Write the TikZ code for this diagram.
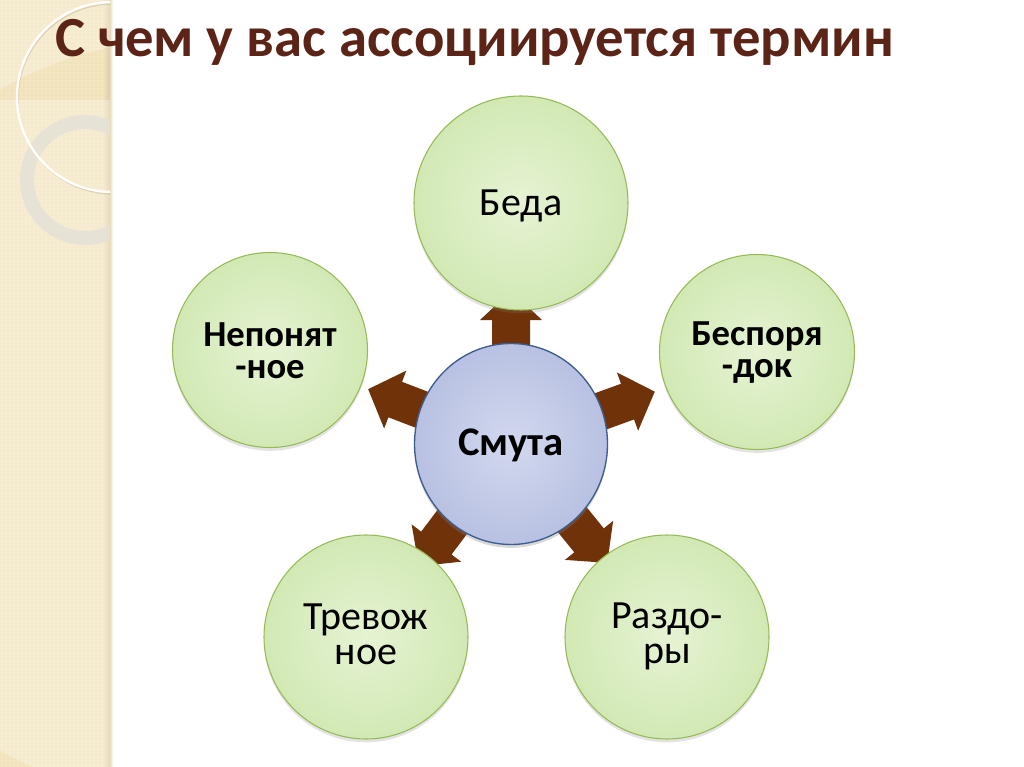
\documentclass[tikz,border=0pt]{standalone}
\usepackage{fontspec}
\setmainfont{Carlito}
\usetikzlibrary{calc,shadows,patterns,shapes.geometric}
\definecolor{stripc}{RGB}{243,229,192}
\definecolor{stripdot}{RGB}{232,214,172}
\definecolor{stripedge}{RGB}{222,204,162}
\definecolor{titlec}{RGB}{92,36,22}
\definecolor{arrowc}{RGB}{112,50,8}
\definecolor{greenin}{RGB}{230,243,212}
\definecolor{greenout}{RGB}{210,233,180}
\definecolor{greenline}{RGB}{150,186,86}
\definecolor{bluein}{RGB}{210,216,238}
\definecolor{blueout}{RGB}{184,193,226}
\definecolor{blueline}{RGB}{62,92,140}
\definecolor{ringc}{RGB}{228,225,214}
\tikzset{
  gcirc/.style={circle, inner sep=0pt, draw=greenline, line width=0.8pt,
    inner color=greenin, outer color=greenout,
    drop shadow={opacity=0.22, shadow xshift=0pt, shadow yshift=-2.5pt}},
  bcirc/.style={ellipse, inner sep=0pt, draw=blueline, line width=1pt,
    inner color=bluein, outer color=blueout,
    drop shadow={opacity=0.3, shadow xshift=0pt, shadow yshift=-2.5pt}},
  lblr/.style={inner sep=0pt, anchor=base, align=center, font=\fontsize{30}{26.25}\selectfont},
  lblb/.style={inner sep=0pt, anchor=base, align=center, font=\fontsize{27.5}{24}\selectfont\bfseries},
  lblc/.style={inner sep=0pt, anchor=base, font=\fontsize{30.5}{36}\selectfont\bfseries},
  titlestyle/.style={inner sep=0pt, anchor=base west, text=titlec,
    font=\fontsize{42.5}{50}\selectfont\bfseries},
}
\newcommand\blockarr[1]{%
  \fill[arrowc] ($(smc)+(#1:80)+(#1+90:19)$) -- ($(smc)+(#1:124)+(#1+90:19)$)
    -- ($(smc)+(#1:124)+(#1+90:31)$) -- ($(smc)+(#1:153)$)
    -- ($(smc)+(#1:124)+(#1-90:31)$) -- ($(smc)+(#1:124)+(#1-90:19)$)
    -- ($(smc)+(#1:80)+(#1-90:19)$) -- cycle;}
\begin{document}
\begin{tikzpicture}[x=0.75pt,y=-0.75pt]
\useasboundingbox (0,0) rectangle (1024,767);
\fill[white] (0,0) rectangle (1024,767);
% left decorative strip
\fill[stripc] (0,0) rectangle (110,767);
\fill[pattern=dots, pattern color=stripdot] (0,0) rectangle (110,767);
\shade[left color=stripc!80!stripedge, right color=stripedge] (104,0) rectangle (110,767);
\shade[left color=stripedge!70, right color=white] (110,0) rectangle (113,767);
\begin{scope}
  \clip (0,0) rectangle (110,767);
  \fill[white, opacity=0.28, even odd rule] (0,0) rectangle (110,100) (190,420) circle[radius=381];
  \draw[ringc, opacity=0.85, line width=10.5pt] (85,180) circle[radius=58];
  \draw[stripedge!80!black, opacity=0.35, line width=1pt] (113,99) circle[radius=95];
  \draw[white!92!stripc, line width=1.8pt] (112,97) circle[radius=95];
\end{scope}
% title
\node[titlestyle] (title) at (55,57) {С чем у вас ассоциируется термин};
% centre coordinate
\coordinate (smc) at (511,444);
% block arrows (behind the circles)
\blockarr{-90}
\blockarr{-20}
\blockarr{-159}
\blockarr{127}
\blockarr{51}
% outer circles
\node[gcirc, minimum size=214*0.75pt] (beda) at (521,203) {};
\node[gcirc, minimum size=195*0.75pt] (besp) at (757,352) {};
\node[gcirc, minimum size=195*0.75pt] (nepo) at (270,350) {};
\node[gcirc, minimum size=204*0.75pt] (trev) at (366,637) {};
\node[gcirc, minimum size=204*0.75pt] (razd) at (667,637) {};
% central circle
\node[bcirc, minimum width=193*0.75pt, minimum height=201*0.75pt] (smuta) at (smc) {};
% labels
\node[lblr] (bedaT) at (521,215) {Беда};
\node[lblb] (bespT) at (757,377) {Беспоря\\-док};
\node[lblb] (nepoT) at (270,378) {Непонят\\-ное};
\node[lblr] (trevT) at (366,664) {Тревож\\ное};
\node[lblr] (razdT) at (667,663) {Раздо-\\ры};
\node[lblc] (smutaT) at (511,455) {Смута};
\end{tikzpicture}
\end{document}
